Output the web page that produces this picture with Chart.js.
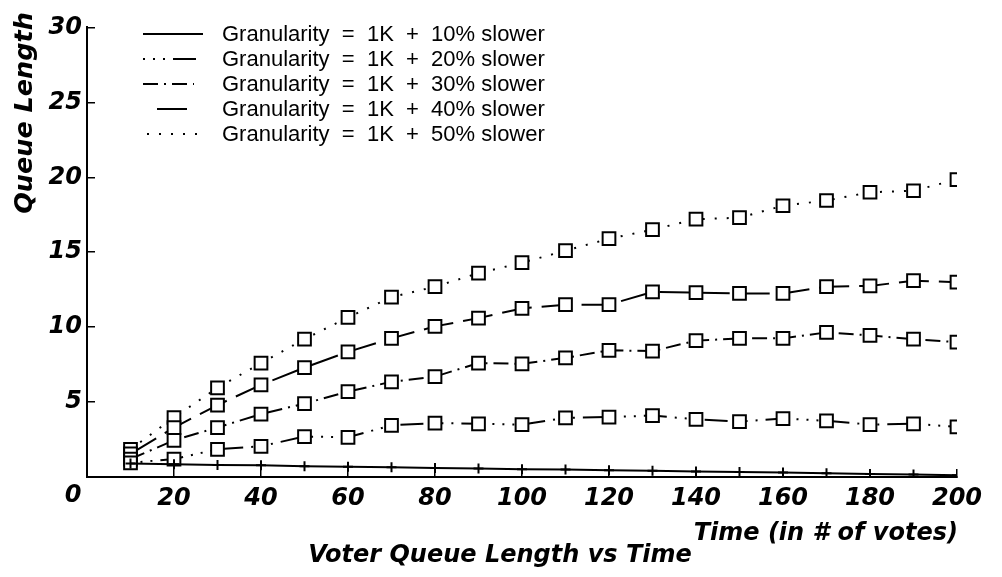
<!DOCTYPE html>
<html lang="en">
<head>
    <meta charset="UTF-8">
    <title>Voter Queue Length vs Time</title>
    <script src="https://cdn.jsdelivr.net/npm/chart.js"></script>
    <style>
        body { margin: 0; background: #fff; }
        #wrap { width: 1002px; height: 577px; }
    </style>
</head>
<body>
    <div id="wrap"><canvas id="queueChart"></canvas></div>

    <script>
        // time in # of votes
        const times = [10, 20, 30, 40, 50, 60, 70, 80, 90, 100, 110, 120, 130, 140, 150, 160, 170, 180, 190, 200];

        // queue length
        const slower10 = [0.9, 0.85, 0.8, 0.78, 0.72, 0.68, 0.65, 0.6, 0.57, 0.52, 0.5, 0.45, 0.42, 0.37, 0.33, 0.3, 0.25, 0.2, 0.17, 0.12];
        const slower20 = [0.95, 1.2, 1.85, 2.05, 2.7, 2.65, 3.45, 3.6, 3.55, 3.5, 3.95, 4.0, 4.1, 3.85, 3.7, 3.9, 3.75, 3.5, 3.55, 3.35];
        const slower30 = [1.2, 2.45, 3.3, 4.2, 4.9, 5.7, 6.35, 6.7, 7.6, 7.55, 7.95, 8.45, 8.4, 9.1, 9.25, 9.25, 9.65, 9.45, 9.2, 9.0];
        const slower40 = [1.55, 3.3, 4.8, 6.15, 7.3, 8.35, 9.25, 10.05, 10.6, 11.25, 11.5, 11.5, 12.35, 12.3, 12.25, 12.25, 12.7, 12.75, 13.1, 13.0];
        const slower50 = [1.85, 3.97, 5.95, 7.6, 9.2, 10.65, 12.0, 12.7, 13.6, 14.3, 15.1, 15.9, 16.5, 17.2, 17.3, 18.1, 18.45, 19.0, 19.1, 19.85];

        const seriesLabels = [
            'Granularity  =  1K  +  10% slower',
            'Granularity  =  1K  +  20% slower',
            'Granularity  =  1K  +  30% slower',
            'Granularity  =  1K  +  40% slower',
            'Granularity  =  1K  +  50% slower'
        ];

        const xTickValues = [20, 40, 60, 80, 100, 120, 140, 160, 180, 200];
        const yTickValues = [5, 10, 15, 20, 25, 30];

        const tickFont = { family: 'DejaVu Sans', size: 24, style: 'italic', weight: 'bold' };
        const textFont = 'italic bold 24px "DejaVu Sans"';

        function toPoints(values) {
            return values.map((v, i) => ({ x: times[i], y: v }));
        }

        function series(label, values, dash, pointStyle, radius) {
            return {
                label: label,
                data: toPoints(values),
                borderColor: '#000',
                borderWidth: 2,
                borderDash: dash,
                pointStyle: pointStyle,
                pointRadius: radius,
                pointBorderWidth: 2,
                pointBorderColor: '#000',
                pointBackgroundColor: '#fff',
                tension: 0,
                fill: false
            };
        }

        // legend, axis titles and caption, drawn the way the paper figure has them
        const paperText = {
            id: 'paperText',
            afterDraw(chart) {
                const ctx = chart.ctx;
                const spans = [[143, 203], [143, 203], [143, 194], [157, 190], [147, 203]];
                ctx.save();
                ctx.fillStyle = '#000';
                ctx.strokeStyle = '#000';

                chart.data.datasets.forEach((ds, i) => {
                    const y = 34 + i * 25;
                    ctx.lineWidth = 2;
                    ctx.setLineDash(ds.borderDash);
                    ctx.beginPath();
                    ctx.moveTo(spans[i][0], y);
                    ctx.lineTo(spans[i][1], y);
                    ctx.stroke();
                    ctx.setLineDash([]);
                    ctx.font = '22px "Liberation Sans"';
                    ctx.textAlign = 'left';
                    ctx.textBaseline = 'middle';
                    ctx.fillText(ds.label, 222, y + 1);
                });

                ctx.font = textFont;
                ctx.textBaseline = 'middle';
                ctx.textAlign = 'center';
                ctx.fillText('0', 73, 496);
                ctx.fillText('Voter Queue Length vs Time', 500, 556);
                ctx.textAlign = 'right';
                ctx.fillText('Time (in # of votes)', 958, 534);

                ctx.font = 'italic bold 25.5px "DejaVu Sans"';
                ctx.translate(25, 113);
                ctx.rotate(-Math.PI / 2);
                ctx.textAlign = 'center';
                ctx.fillText('Queue Length', 0, 0);
                ctx.restore();
            }
        };

        const ctx = document.getElementById('queueChart').getContext('2d');
        const queueChart = new Chart(ctx, {
            type: 'line',
            data: {
                datasets: [
                    series(seriesLabels[0], slower10, [], 'cross', 5),
                    series(seriesLabels[1], slower20, [2, 8, 2, 8, 2, 8, 23, 8], 'rect', 9),
                    series(seriesLabels[2], slower30, [15, 6, 2, 6], 'rect', 9),
                    series(seriesLabels[3], slower40, [30, 10], 'rect', 9),
                    series(seriesLabels[4], slower50, [2, 10], 'rect', 9)
                ]
            },
            options: {
                responsive: true,
                maintainAspectRatio: false,
                animation: false,
                events: [],
                layout: { padding: { left: 0, top: 22, right: 45, bottom: 0 } },
                plugins: {
                    legend: { display: false },
                    tooltip: { enabled: false }
                },
                scales: {
                    x: {
                        type: 'linear',
                        min: 0,
                        max: 200,
                        afterBuildTicks: scale => { scale.ticks = xTickValues.map(v => ({ value: v })); },
                        afterFit: scale => { scale.height = 100; },
                        grid: { drawOnChartArea: false, drawTicks: true, tickLength: -8, color: '#000', lineWidth: 1.5 },
                        border: { display: true, color: '#000', width: 2 },
                        ticks: { color: '#000', font: tickFont, padding: 15, maxRotation: 0, autoSkip: false }
                    },
                    y: {
                        min: 0,
                        max: 30,
                        afterBuildTicks: scale => { scale.ticks = yTickValues.map(v => ({ value: v })); },
                        afterFit: scale => { scale.width = 87; },
                        grid: { drawOnChartArea: false, drawTicks: true, tickLength: -8, color: '#000', lineWidth: 1.5 },
                        border: { display: true, color: '#000', width: 2 },
                        ticks: { color: '#000', font: tickFont, padding: 13, autoSkip: false }
                    }
                }
            },
            plugins: [paperText]
        });
    </script>
</body>
</html>
